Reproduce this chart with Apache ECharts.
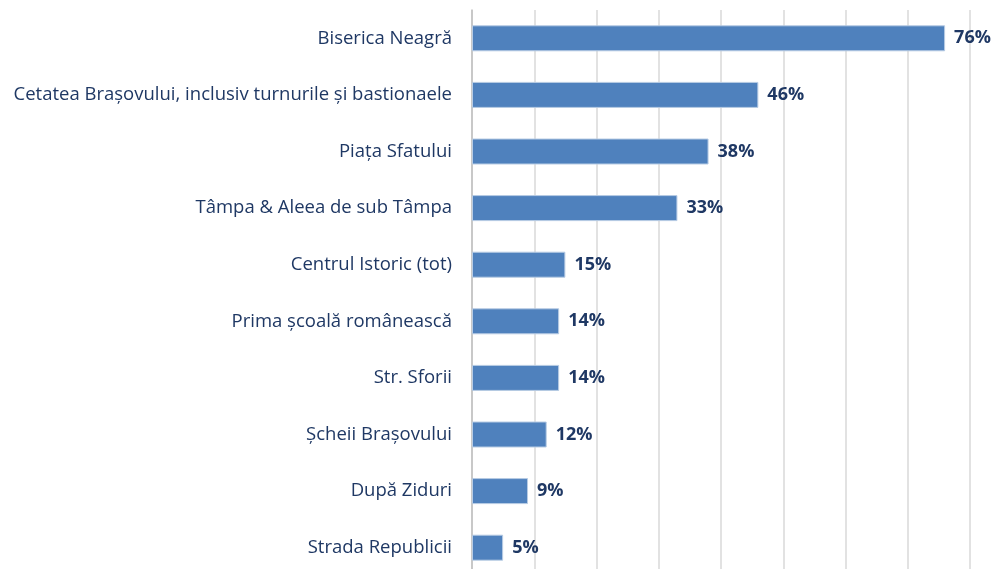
<!DOCTYPE html>
<html>
<head>
<meta charset="utf-8">
<script src="https://cdn.jsdelivr.net/npm/echarts@6/dist/echarts.min.js"></script>
<style>
    html, body { margin: 0; padding: 0; background: #fff; overflow: hidden; }
    /* the plot runs a little past the bottom edge, as in the cropped original */
    #chart { width: 995px; height: 580px; }
</style>
</head>
<body>
<div id="chart"></div>
<script>
const places = [
    'Biserica Neagră',
    'Cetatea Brașovului, inclusiv turnurile și bastionaele',
    'Piața Sfatului',
    'Tâmpa & Aleea de sub Tâmpa',
    'Centrul Istoric (tot)',
    'Prima școală românească',
    'Str. Sforii',
    'Șcheii Brașovului',
    'După Ziduri',
    'Strada Republicii'
];
const shares = [76, 46, 38, 33, 15, 14, 14, 12, 9, 5];
const axisTicks = [0, 10, 20, 30, 40, 50, 60, 70, 80];

const navy = '#1f3864';

const myChart = echarts.init(document.getElementById('chart'));

const option = {
    animation: false,
    grid: {
        left: 472,
        right: 25,
        top: 10,
        bottom: 4,
        containLabel: false
    },
    xAxis: {
        type: 'value',
        min: axisTicks[0],
        max: axisTicks[axisTicks.length - 1],
        interval: axisTicks[1] - axisTicks[0],
        axisLabel: { show: false },
        axisLine: { show: false },
        axisTick: { show: false },
        splitLine: {
            lineStyle: { color: '#d9d9d9', width: 1.5 }
        }
    },
    yAxis: {
        type: 'category',
        inverse: true,
        data: places,
        axisLine: {
            lineStyle: { color: '#bfbfbf', width: 1.5 }
        },
        axisTick: {
            length: 7,
            lineStyle: { color: '#bfbfbf', width: 1.5 }
        },
        axisLabel: {
            fontFamily: 'Open Sans',
            fontSize: 18.5,
            color: navy,
            margin: 20
        }
    },
    series: [
        {
            type: 'bar',
            data: shares,
            barWidth: 26,
            itemStyle: {
                color: '#4f81bd',
                borderColor: '#b8cce4',
                borderWidth: 1
            },
            label: {
                show: true,
                position: 'right',
                distance: 9,
                formatter: (item) => item.value + '%',
                fontFamily: 'Open Sans',
                fontWeight: 'bold',
                fontSize: 18,
                color: navy
            }
        }
    ]
};

myChart.setOption(option);
</script>
</body>
</html>
